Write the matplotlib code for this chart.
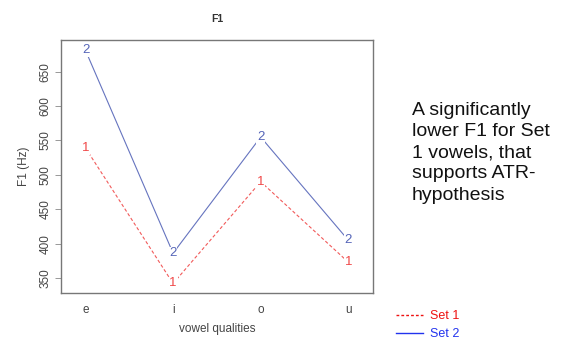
import matplotlib
matplotlib.use("Agg")
import matplotlib.pyplot as plt
from matplotlib.lines import Line2D

categories = ["e", "i", "o", "u"]
set1 = [539, 342, 490, 373]
set2 = [681, 386, 555, 405]
yticks = [350, 400, 450, 500, 550, 600, 650]

plt.rcParams['font.family'] = ['Liberation Sans', 'DejaVu Sans']

fig = plt.figure(figsize=(5.7, 3.4), dpi=100)
ax = fig.add_axes([0.107, 0.138, 0.547, 0.744])

red = '#f04848'
blue = '#5565b8'
x = list(range(1, len(categories) + 1))

ax.plot(x, set1, color=red, lw=0.8, ls=(0, (3, 2)), zorder=1, alpha=0.9)
ax.plot(x, set2, color=blue, lw=0.8, ls='-', zorder=1, alpha=0.9)
for xi, v in zip(x, set1):
    ax.text(xi, v, "1", color=red, fontsize=9.5, ha='center', va='center', zorder=3,
            bbox=dict(boxstyle='square,pad=0.05', fc='white', ec='none'))
for xi, v in zip(x, set2):
    ax.text(xi, v, "2", color=blue, fontsize=9.5, ha='center', va='center', zorder=3,
            bbox=dict(boxstyle='square,pad=0.05', fc='white', ec='none'))

ax.set_xlim(1 - 0.28, len(categories) + 0.28)
ax.set_ylim(328, 696)
ax.set_xticks(x)
ax.set_xticklabels(categories)
ax.set_yticks(yticks)
ax.set_yticklabels([str(t) for t in yticks], rotation=90, va='center')
ax.tick_params(axis='x', length=0, pad=8, labelsize=8.5, labelcolor='#444444')
ax.tick_params(axis='y', length=4, width=0.6, color='#888888', pad=3,
               labelsize=8.5, labelcolor='#444444')
for s in ax.spines.values():
    s.set_color('#777777')
    s.set_linewidth(1.0)

ax.set_title("F1", fontsize=7.5, fontweight='bold', color='#333333', pad=13)
ax.set_xlabel("vowel qualities", fontsize=8.5, color='#444444', labelpad=5)
ax.set_ylabel("F1 (Hz)", fontsize=8.5, color='#444444', labelpad=7)

handles = [Line2D([], [], color='#ee1111', ls=(0, (2, 1.5)), lw=1.0),
           Line2D([], [], color='#2233ee', ls='-', lw=1.0)]
leg = fig.legend(handles, ["Set 1", "Set 2"], loc='upper left',
                 bbox_to_anchor=(0.683, 0.106), frameon=False, fontsize=9,
                 handlelength=2.2, handletextpad=0.55, labelspacing=0.5,
                 borderpad=0)
for t, c in zip(leg.get_texts(), ['#ee1111', '#2233ee']):
    t.set_color(c)

fig.text(0.722, 0.70, "A significantly\nlower F1 for Set\n1 vowels, that\nsupports ATR-\nhypothesis",
         fontsize=14, va='top', ha='left', color='#111111', linespacing=1.32)

fig.savefig("out.png", dpi=100)
